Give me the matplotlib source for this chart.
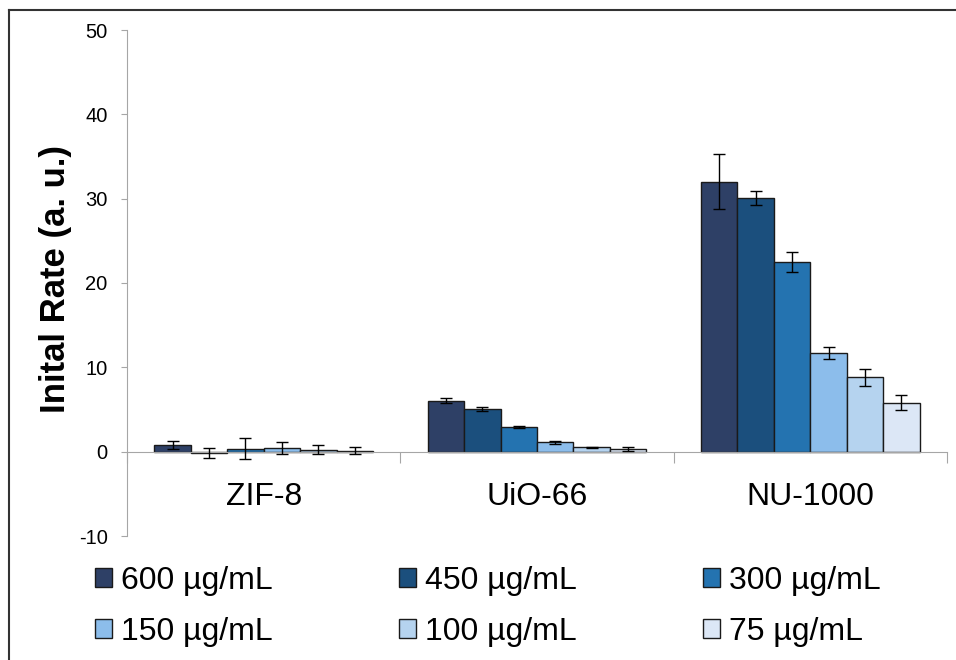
import numpy as np
import matplotlib
matplotlib.use('Agg')
import matplotlib.pyplot as plt
from matplotlib.lines import Line2D

plt.rcParams['font.family'] = ['Liberation Sans', 'DejaVu Sans']
plt.rcParams['axes.unicode_minus'] = False

categories = ['ZIF-8', 'UiO-66', 'NU-1000']
series = ['600 µg/mL', '450 µg/mL', '300 µg/mL', '150 µg/mL', '100 µg/mL', '75 µg/mL']
colors = ['#2e4066', '#1b4f7d', '#2473b0', '#8cbdeb', '#b5d3ef', '#dce7f6']

# rows = series, columns = categories
values = [
    [0.8, 6.05, 32.0],
    [-0.2, 5.1, 30.1],
    [0.35, 2.9, 22.45],
    [0.45, 1.1, 11.7],
    [0.25, 0.5, 8.8],
    [0.1, 0.3, 5.8],
]
errors = [
    [0.45, 0.3, 3.25],
    [0.6, 0.25, 0.8],
    [1.25, 0.1, 1.2],
    [0.7, 0.15, 0.7],
    [0.5, 0.08, 1.05],
    [0.4, 0.25, 0.9],
]

fig = plt.figure(figsize=(9.56, 6.6), dpi=100)
ax = fig.add_axes([127/956, 1-536/660, 820/956, 506/660])

x = np.arange(len(categories))
n = len(series)
width = 0.8 / n
bars = []
for i in range(n):
    pos = x - 0.4 + width * (i + 0.5)
    b = ax.bar(pos, values[i], width, color=colors[i], edgecolor='#1a1a1a',
               linewidth=1.0, label=series[i], zorder=2)
    bars.append(b)
    ax.errorbar(pos, values[i], yerr=errors[i], fmt='none', ecolor='black',
                elinewidth=1.0, capsize=4, capthick=1.0, zorder=3)

ax.set_xlim(-0.5, 2.5)
ax.set_ylim(-10, 50)
ax.set_yticks(np.arange(-10, 51, 10))

gray = '#a6a6a6'
for s in ['top', 'right']:
    ax.spines[s].set_visible(False)
ax.spines['left'].set_color(gray)
ax.spines['bottom'].set_color(gray)
ax.spines['bottom'].set_position(('data', 0))

ax.tick_params(axis='y', direction='out', length=4, color=gray, labelsize=14.5,
               pad=10, labelcolor='black')
ax.set_xticks([-0.5, 0.5, 1.5, 2.5])
ax.set_xticklabels([])
ax.set_xticks(x, minor=True)
ax.set_xticklabels(categories, minor=True)
ax.tick_params(axis='x', which='major', direction='out', length=8, color=gray)
ax.tick_params(axis='x', which='minor', length=0, labelsize=23, pad=22)

fig.text(55/956, 1-279/660, 'Inital Rate (a. u.)', rotation=90, ha='center',
         va='center', fontsize=25, fontweight='bold')

# legend fills column by column, so reorder to get rows 600/450/300 and 150/100/75
order = [0, 3, 1, 4, 2, 5]
fs = 23
fig.legend([bars[k] for k in order], [series[k] for k in order],
           loc='upper left', bbox_to_anchor=(95/956, 1-566/660), ncol=3,
           frameon=False, fontsize=fs, handlelength=0.53, handleheight=0.53,
           handletextpad=0.28, columnspacing=3.95, labelspacing=0.66,
           borderaxespad=0, borderpad=0)

# frame lines at top and left
fig.add_artist(Line2D([8.5/956, 1], [1-9.5/660, 1-9.5/660], color='#333333', lw=1.5))
fig.add_artist(Line2D([8.5/956, 8.5/956], [0, 1-9.5/660], color='#333333', lw=1.5))

fig.savefig('out.png', dpi=100)
